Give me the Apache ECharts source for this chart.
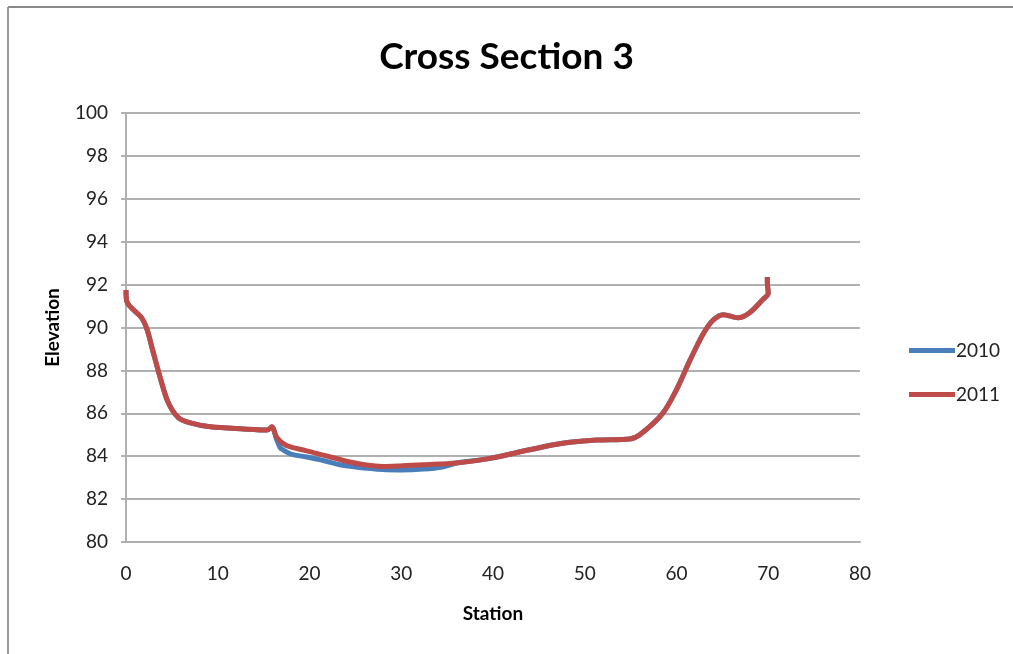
<!DOCTYPE html>
<html>
<head>
<meta charset="utf-8">
<script src="https://cdn.jsdelivr.net/npm/echarts@6/dist/echarts.min.js"></script>
<style>
  html, body { margin: 0; padding: 0; background: #fff; }
  #chart { width: 1013px; height: 654px; }
</style>
</head>
<body>
<div id="chart"></div>
<script>
// Surveyed ground profile across section 3: station (m) vs elevation (m)
const stations2010 = [0, 0.1, 1.7, 2.3, 2.9, 3.7, 4.6, 5.7, 7, 9.2, 12.8, 15.4, 15.9, 16.4, 16.8, 17.1, 18, 19.7, 21.5, 23.3, 25, 28, 30, 32.4, 34.5, 36, 39.7, 44, 47.6, 51.3, 54.9, 56, 58.5, 60, 61.5, 62.9, 64, 65.1, 66.7, 68, 69.4, 70, 69.9, 69.9];
const elev2010 = [91.75, 91.2, 90.45, 89.9, 88.95, 87.7, 86.5, 85.8, 85.55, 85.37, 85.27, 85.22, 85.37, 84.8, 84.4, 84.3, 84.1, 83.96, 83.8, 83.6, 83.5, 83.38, 83.36, 83.4, 83.5, 83.68, 83.9, 84.3, 84.6, 84.75, 84.8, 85.0, 86.0, 87.1, 88.5, 89.7, 90.35, 90.6, 90.45, 90.7, 91.3, 91.6, 92.1, 92.35];

const stations2011 = [0, 0.1, 1.7, 2.3, 2.9, 3.7, 4.6, 5.7, 7, 9.2, 12.8, 15.4, 15.9, 16.4, 17.1, 18, 19.7, 21.5, 24.4, 26, 28, 30, 32.4, 36, 39.7, 44, 47.6, 51.3, 54.9, 56, 58.5, 60, 61.5, 62.9, 64, 65.1, 66.7, 68, 69.4, 70, 69.9, 69.9];
const elev2011 = [91.75, 91.2, 90.45, 89.9, 88.95, 87.7, 86.5, 85.8, 85.55, 85.37, 85.27, 85.22, 85.37, 84.9, 84.6, 84.42, 84.25, 84.05, 83.73, 83.6, 83.52, 83.55, 83.6, 83.68, 83.9, 84.3, 84.6, 84.75, 84.8, 85.0, 86.0, 87.1, 88.5, 89.7, 90.35, 90.6, 90.45, 90.7, 91.3, 91.6, 92.1, 92.35];

const seriesNames = ['2010', '2011'];
const xTicks = { min: 0, max: 80, interval: 10 };
const yTicks = { min: 80, max: 100, interval: 2 };

const font = 'Lato, "Open Sans", sans-serif';
const pair = (xs, ys) => xs.map((x, i) => [x, ys[i]]);

const chart = echarts.init(document.getElementById('chart'), null, { renderer: 'canvas' });
chart.setOption({
  backgroundColor: '#ffffff',
  animation: false,
  title: {
    text: 'Cross Section 3',
    left: 'center',
    top: 34,
    textStyle: { fontFamily: font, fontWeight: 'bold', fontSize: 37, color: '#000' }
  },
  graphic: [
    { type: 'line', shape: { x1: 8, y1: 7, x2: 1013, y2: 7 }, style: { stroke: '#8a8a8a', lineWidth: 2 } },
    { type: 'line', shape: { x1: 8, y1: 7, x2: 8, y2: 654 }, style: { stroke: '#9a9a9a', lineWidth: 2 } }
  ],
  grid: { left: 126, right: 153, top: 113, bottom: 112 },
  legend: {
    orient: 'vertical',
    left: 904,
    top: 336,
    itemGap: 25,
    itemWidth: 46,
    itemHeight: 5,
    icon: 'rect',
    textStyle: { fontFamily: font, fontSize: 19, color: '#222', padding: [0, 0, 0, -4] },
    data: seriesNames
  },
  xAxis: {
    type: 'value',
    min: xTicks.min, max: xTicks.max, interval: xTicks.interval,
    name: 'Station',
    nameLocation: 'middle',
    nameGap: 62,
    nameTextStyle: { fontFamily: font, fontWeight: 'bold', fontSize: 19, color: '#000' },
    axisLine: { show: true, lineStyle: { color: '#b0b0b0', width: 2 } },
    axisTick: { show: false },
    splitLine: { show: false },
    axisLabel: { fontFamily: font, fontSize: 19, color: '#222', margin: 22 }
  },
  yAxis: {
    type: 'value',
    min: yTicks.min, max: yTicks.max, interval: yTicks.interval,
    name: 'Elevation',
    nameLocation: 'middle',
    nameGap: 64,
    nameTextStyle: { fontFamily: font, fontWeight: 'bold', fontSize: 19, color: '#000' },
    axisLine: { show: true, lineStyle: { color: '#b0b0b0', width: 2 } },
    axisTick: { show: true, inside: false, length: 5, lineStyle: { color: '#b0b0b0', width: 2 } },
    splitLine: { show: true, lineStyle: { color: '#b0b0b0', width: 2 } },
    axisLabel: { fontFamily: font, fontSize: 19, color: '#222', margin: 18 }
  },
  series: [
    {
      name: seriesNames[0],
      type: 'line',
      smooth: 0.3,
      showSymbol: false,
      color: '#4a7ebb',
      lineStyle: { width: 5, color: '#4a7ebb' },
      data: pair(stations2010, elev2010)
    },
    {
      name: seriesNames[1],
      type: 'line',
      smooth: 0.3,
      showSymbol: false,
      color: '#be4b48',
      lineStyle: { width: 5, color: '#be4b48' },
      data: pair(stations2011, elev2011)
    }
  ]
});
</script>
</body>
</html>
